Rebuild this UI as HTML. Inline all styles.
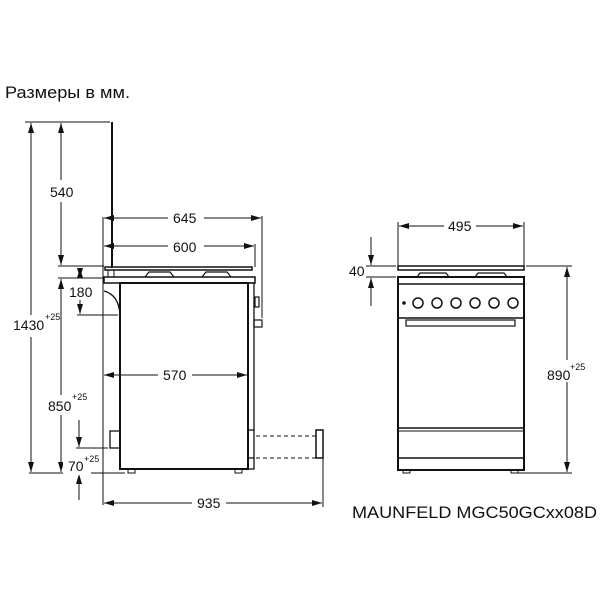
<!DOCTYPE html>
<html><head><meta charset="utf-8"><style>
html,body{margin:0;padding:0;background:#fff;}
svg{display:block}
text{font-family:"Liberation Sans",sans-serif;fill:#111}
</style></head><body>
<svg width="600" height="600" viewBox="0 0 600 600" xmlns="http://www.w3.org/2000/svg">
<defs>
<marker id="a" viewBox="0 0 10 6" refX="10" refY="3" markerWidth="10" markerHeight="6" orient="auto-start-reverse" markerUnits="userSpaceOnUse"><path d="M0,0 L10,3 L0,6 z" fill="#111"/></marker>
</defs>
<text x="5" y="98" font-size="16.5" textLength="125" lengthAdjust="spacingAndGlyphs">Размеры в мм.</text>
<text x="352" y="518" font-size="17" textLength="245" lengthAdjust="spacingAndGlyphs">MAUNFELD MGC50GCxx08D</text>
<g stroke="#111" fill="none" stroke-width="1">
<line x1="25" y1="122" x2="110" y2="122"/>
<line x1="31" y1="123" x2="31" y2="472" marker-start="url(#a)" marker-end="url(#a)"/>
<line x1="61" y1="123" x2="61" y2="265" marker-start="url(#a)" marker-end="url(#a)"/>
<line x1="58" y1="266" x2="104" y2="266"/>
<line x1="58" y1="278" x2="104" y2="278"/>
<line x1="61" y1="279" x2="61" y2="472" marker-start="url(#a)" marker-end="url(#a)"/>
<line x1="80" y1="268" x2="80" y2="278" marker-end="url(#a)" marker-start="url(#a)"/>
<line x1="80" y1="298" x2="80" y2="314" marker-end="url(#a)"/>
<line x1="77" y1="315" x2="118" y2="315"/>
<line x1="79" y1="420" x2="79" y2="447" marker-end="url(#a)"/>
<line x1="76" y1="448" x2="108" y2="448"/>
<line x1="79" y1="500" x2="79" y2="474" marker-end="url(#a)"/>
<line x1="29" y1="473" x2="125" y2="473"/>
<line x1="103" y1="217" x2="103" y2="505"/>
<line x1="104" y1="218" x2="261" y2="218" marker-start="url(#a)" marker-end="url(#a)"/>
<line x1="262" y1="216" x2="262" y2="318"/>
<line x1="104" y1="246" x2="254" y2="246" marker-start="url(#a)" marker-end="url(#a)"/>
<line x1="255" y1="244" x2="255" y2="267"/>
<line x1="104" y1="375" x2="247" y2="375" marker-start="url(#a)" marker-end="url(#a)"/>
<line x1="104" y1="503" x2="322" y2="503" marker-start="url(#a)" marker-end="url(#a)"/>
<line x1="323" y1="458" x2="323" y2="507"/>
</g>
<g fill="#fff">
<rect x="45" y="180" width="30" height="22"/><rect x="43" y="395" width="30" height="20"/>
<rect x="10" y="315" width="36" height="22"/><rect x="168" y="208" width="36" height="20"/>
<rect x="168" y="236" width="36" height="20"/><rect x="158" y="365" width="34" height="20"/>
<rect x="192" y="493" width="34" height="20"/><rect x="67" y="282" width="28" height="18"/>
<rect x="63" y="455" width="28" height="20"/>
</g>
<g font-size="14">
<text x="50" y="197">540</text>
<text x="173" y="223">645</text>
<text x="173" y="252">600</text>
<text x="69" y="297">180</text>
<text x="13" y="330">1430</text><text x="45" y="320" font-size="9">+25</text>
<text x="48" y="411">850</text><text x="72" y="400" font-size="9">+25</text>
<text x="68" y="471">70</text><text x="84" y="462" font-size="9">+25</text>
<text x="163" y="380">570</text>
<text x="197" y="508">935</text>
</g>
<g stroke="#111" fill="none" stroke-width="2">
<line x1="112" y1="122" x2="112" y2="268"/>
<rect x="105" y="267" width="147" height="3" stroke-width="1.5"/>
<rect x="108" y="270" width="6" height="7" stroke-width="1"/>
<path d="M145,277 L149,272 L170,272 L174,277 M202,277 L206,272 L227,272 L231,277" stroke-width="1.2"/>
<rect x="104" y="277" width="151" height="6" stroke-width="1.5"/>
<rect x="120" y="283" width="128" height="186"/>
<path d="M104,291 Q119,295 120,315" stroke-width="1.3"/>
<rect x="110" y="431" width="10" height="17" stroke-width="1.3"/>
<rect x="248" y="283" width="6" height="186" stroke-width="1.3"/>
<line x1="248" y1="430" x2="254" y2="430" stroke-width="1.3"/>
<line x1="248" y1="458" x2="254" y2="458" stroke-width="1.3"/>
<rect x="255" y="297" width="4" height="10" stroke-width="1.2"/>
<rect x="254" y="320" width="8" height="7" stroke-width="1.2"/>
<rect x="316" y="430" width="7" height="28" stroke-width="1.5"/>
<rect x="128" y="469" width="7" height="4" stroke-width="1"/>
<rect x="235" y="469" width="7" height="4" stroke-width="1"/>
<line x1="256" y1="436" x2="316" y2="436" stroke-dasharray="4,3" stroke-width="1"/>
<line x1="256" y1="458" x2="316" y2="458" stroke-dasharray="4,3" stroke-width="1"/>
</g>
<g stroke="#111" fill="none" stroke-width="1">
<line x1="398" y1="222" x2="398" y2="266"/>
<line x1="524" y1="222" x2="524" y2="266"/>
<line x1="399" y1="226" x2="523" y2="226" marker-start="url(#a)" marker-end="url(#a)"/>
<line x1="371" y1="237" x2="371" y2="265" marker-end="url(#a)"/>
<line x1="366" y1="266" x2="396" y2="266"/>
<line x1="366" y1="277" x2="396" y2="277"/>
<line x1="371" y1="306" x2="371" y2="278" marker-end="url(#a)"/>
<line x1="526" y1="266" x2="572" y2="266"/>
<line x1="518" y1="473" x2="572" y2="473"/>
<line x1="567" y1="267" x2="567" y2="472" marker-start="url(#a)" marker-end="url(#a)"/>
</g>
<rect x="444" y="215" width="32" height="20" fill="#fff"/>
<rect x="545" y="360" width="30" height="22" fill="#fff"/>
<g font-size="14">
<text x="448" y="231">495</text>
<text x="349" y="276">40</text>
<text x="547" y="380">890</text><text x="570" y="370" font-size="9">+25</text>
</g>
<g stroke="#111" fill="none" stroke-width="1.5">
<rect x="398" y="266" width="126" height="4"/>
<path d="M417,277 L420,273 L446,273 L449,277 M475,277 L478,273 L504,273 L507,277" stroke-width="1.2"/>
<rect x="398" y="277" width="126" height="193" stroke-width="2"/>
<line x1="398" y1="284" x2="524" y2="284"/>
<line x1="398" y1="318" x2="524" y2="318"/>
<rect x="406" y="320" width="109" height="6" stroke-width="1.2"/>
<line x1="398" y1="428" x2="524" y2="428"/>
<line x1="398" y1="431" x2="524" y2="431" stroke-width="1"/>
<line x1="398" y1="458" x2="524" y2="458"/>
<rect x="403" y="470" width="7" height="3" stroke-width="1"/>
<rect x="511" y="470" width="7" height="3" stroke-width="1"/>
<circle cx="418" cy="303" r="5"/><circle cx="437" cy="303" r="5"/><circle cx="456" cy="303" r="5"/>
<circle cx="475" cy="303" r="5"/><circle cx="494" cy="303" r="5"/><circle cx="513" cy="303" r="5"/>
</g>
<circle cx="404" cy="303" r="1.8" fill="#111"/>
</svg>
</body></html>
